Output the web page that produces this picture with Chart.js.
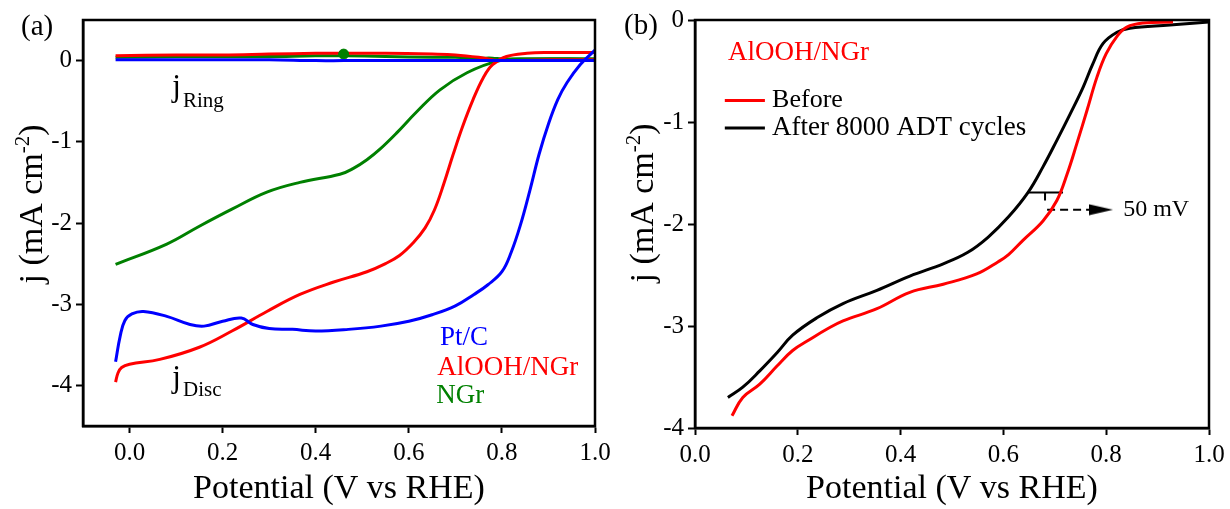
<!DOCTYPE html>
<html>
<head>
<meta charset="utf-8">
<script src="https://cdn.jsdelivr.net/npm/chart.js@4/dist/chart.umd.min.js"></script>
<style>
  html, body { margin: 0; padding: 0; background: #fff; }
  .panel { position: absolute; top: 0; }
</style>
</head>
<body>
<div class="panel" style="left:0"><canvas id="chartA" width="620" height="509"></canvas></div>
<div class="panel" style="left:610px"><canvas id="chartB" width="620" height="509"></canvas></div>
<script>
// ---- panel (a): RRDE disc + ring currents ----
const ptcDiscV  = [-0.03, -0.02, -0.01, 0.005, 0.03, 0.08, 0.13, 0.16, 0.2, 0.24, 0.265, 0.3, 0.35, 0.4, 0.47, 0.54, 0.6, 0.65, 0.7, 0.74, 0.77, 0.8, 0.82, 0.84, 0.86, 0.88, 0.9, 0.92, 0.94, 0.968, 1.0];
const ptcDiscJ  = [-3.71, -3.39, -3.2, -3.12, -3.09, -3.15, -3.25, -3.27, -3.21, -3.17, -3.25, -3.30, -3.31, -3.33, -3.31, -3.27, -3.21, -3.13, -3.02, -2.88, -2.76, -2.6, -2.36, -2.02, -1.6, -1.15, -0.78, -0.48, -0.27, -0.05, 0.13];
const alooDiscV = [-0.03, -0.025, -0.017, 0.0, 0.065, 0.15, 0.22, 0.295, 0.366, 0.437, 0.51, 0.55, 0.58, 0.61, 0.635, 0.655, 0.675, 0.695, 0.715, 0.738, 0.76, 0.78, 0.81, 0.854, 0.9, 1.0];
const alooDiscJ = [-3.96, -3.85, -3.78, -3.74, -3.68, -3.53, -3.33, -3.09, -2.88, -2.73, -2.6, -2.5, -2.4, -2.24, -2.06, -1.84, -1.52, -1.16, -0.82, -0.48, -0.21, -0.05, 0.05, 0.09, 0.1, 0.1];
const ngrDiscV  = [-0.03, 0.08, 0.15, 0.22, 0.295, 0.366, 0.452, 0.48, 0.51, 0.538, 0.574, 0.617, 0.667, 0.725, 0.789, 0.85, 1.0];
const ngrDiscJ  = [-2.51, -2.26, -2.04, -1.83, -1.62, -1.50, -1.40, -1.33, -1.22, -1.09, -0.89, -0.63, -0.36, -0.15, -0.01, 0.02, 0.02];
const ringV     = [-0.03, 0.1, 0.2, 0.3, 0.4, 0.46, 0.55, 0.65, 0.7, 0.75, 0.78, 0.8, 0.9, 1.0];
const ptcRingJ  = [0.01, 0.01, 0.01, 0.01, 0.0, 0.0, 0.0, 0.0, 0.0, 0.0, 0.0, 0.0, 0.0, 0.0];
const alooRingJ = [0.06, 0.07, 0.07, 0.08, 0.09, 0.09, 0.09, 0.08, 0.07, 0.04, 0.01, 0.0, 0.01, 0.01];
const ngrRingJ  = [0.04, 0.05, 0.05, 0.05, 0.06, 0.06, 0.05, 0.04, 0.04, 0.03, 0.03, 0.02, 0.02, 0.02];
const ngrDotV = [0.46];
const ngrDotJ = [0.08];
const ticksA_x = [0, 0.2, 0.4, 0.6, 0.8, 1.0];
const ticksA_y = [-4, -3, -2, -1, 0];

// ---- panel (b): AlOOH/NGr before / after ADT ----
const beforeV = [0.072, 0.093, 0.126, 0.16, 0.19, 0.224, 0.257, 0.288, 0.354, 0.418, 0.483, 0.548, 0.59, 0.61, 0.638, 0.677, 0.704, 0.724, 0.743, 0.763, 0.782, 0.80, 0.821, 0.84, 0.872, 0.93];
const beforeJ = [-3.88, -3.70, -3.57, -3.39, -3.24, -3.13, -3.03, -2.95, -2.83, -2.67, -2.59, -2.49, -2.37, -2.30, -2.16, -1.97, -1.77, -1.51, -1.21, -0.88, -0.56, -0.33, -0.16, -0.07, -0.03, -0.02];
const afterV  = [0.064, 0.093, 0.126, 0.16, 0.19, 0.237, 0.288, 0.354, 0.418, 0.483, 0.53, 0.57, 0.61, 0.648, 0.677, 0.704, 0.73, 0.755, 0.774, 0.794, 0.821, 0.846, 0.924, 1.0];
const afterJ  = [-3.70, -3.60, -3.44, -3.26, -3.09, -2.92, -2.78, -2.65, -2.51, -2.39, -2.28, -2.13, -1.93, -1.69, -1.44, -1.18, -0.92, -0.66, -0.43, -0.23, -0.12, -0.08, -0.05, -0.02];
const bracketV = [0.648, 0.716];
const bracketJ = [-1.69, -1.69];
const bracketTickV = [0.681, 0.681];
const bracketTickJ = [-1.69, -1.77];
const arrowV = [0.685, 0.775];
const arrowJ = [-1.86, -1.86];
const arrowHeadV = [0.79];
const arrowHeadJ = [-1.86];
const ticksB_x = [0, 0.2, 0.4, 0.6, 0.8, 1.0];
const ticksB_y = [-4, -3, -2, -1, 0];

const serif = '"Liberation Serif", "Times New Roman", serif';
const pts = (xs, ys) => xs.map((x, i) => ({ x, y: ys[i] }));

// arrowhead glyph used as a point style
const arrowHead = document.createElement('canvas');
arrowHead.width = 24; arrowHead.height = 12;
(() => {
  const c = arrowHead.getContext('2d');
  c.fillStyle = '#000';
  c.beginPath(); c.moveTo(0, 0.5); c.lineTo(24, 6); c.lineTo(0, 11.5); c.closePath(); c.fill();
})();

// frame, y title with superscript, free text and legend swatches
const notesPlugin = {
  id: 'notes',
  afterDraw(chart, args, opts) {
    const { ctx, chartArea: a, scales: { x, y } } = chart;
    ctx.save();
    ctx.strokeStyle = '#000';
    ctx.lineWidth = 2.5;
    ctx.strokeRect(a.left, a.top, a.right - a.left, a.bottom - a.top);

    // rotated y title: j (mA cm^-2)
    const big = `34px ${serif}`, small = `21px ${serif}`;
    ctx.font = big;
    const w1 = ctx.measureText('j (mA cm').width;
    const w3 = ctx.measureText(')').width;
    ctx.font = small;
    const w2 = ctx.measureText('-2').width;
    const total = w1 + w2 + w3;
    ctx.save();
    ctx.translate(opts.yTitle.x, opts.yTitle.y);
    ctx.rotate(-Math.PI / 2);
    ctx.fillStyle = '#000';
    ctx.textBaseline = 'alphabetic';
    ctx.textAlign = 'left';
    let sx = -total / 2;
    ctx.font = big; ctx.fillText('j (mA cm', sx, 0); sx += w1;
    ctx.font = small; ctx.fillText('-2', sx, -13); sx += w2;
    ctx.font = big; ctx.fillText(')', sx, 0);
    ctx.restore();

    (opts.items || []).forEach(n => {
      const px = n.px != null ? n.px : x.getPixelForValue(n.x);
      const py = n.py != null ? n.py : y.getPixelForValue(n.y);
      if (n.swatch) {
        ctx.strokeStyle = n.swatch;
        ctx.lineWidth = 3;
        ctx.beginPath();
        ctx.moveTo(x.getPixelForValue(n.sx0), py);
        ctx.lineTo(x.getPixelForValue(n.sx1), py);
        ctx.stroke();
      }
      ctx.fillStyle = n.color || '#000';
      ctx.font = `${n.size || 26}px ${serif}`;
      ctx.textBaseline = n.base || 'middle';
      ctx.textAlign = 'left';
      ctx.fillText(n.text, px, py);
      if (n.sub) {
        const w = ctx.measureText(n.text).width;
        ctx.font = `${n.subSize}px ${serif}`;
        ctx.fillText(n.sub, px + w + 2, py + n.subDy);
      }
    });
    ctx.restore();
  }
};

function axes(xMin, xMax, xTicks, yMin, yMax, yTicks, yW, xH) {
  const tickFont = { family: serif, size: 25 };
  const grid = { display: true, drawOnChartArea: false, drawTicks: true, tickLength: 7, tickWidth: 2, color: '#000' };
  const border = { display: true, color: '#000', width: 2.5 };
  return {
    x: {
      type: 'linear', min: xMin, max: xMax, grid, border,
      afterBuildTicks: s => { s.ticks = xTicks.map(v => ({ value: v })); },
      afterFit: s => { s.height = xH; },
      ticks: { font: tickFont, color: '#000', padding: 5, maxRotation: 0, callback: v => v.toFixed(1) },
      title: { display: true, text: 'Potential (V vs RHE)', font: { family: serif, size: 34 }, color: '#000', padding: { top: 0, bottom: 0 } }
    },
    y: {
      type: 'linear', min: yMin, max: yMax, grid, border,
      afterBuildTicks: s => { s.ticks = yTicks.map(v => ({ value: v })); },
      afterFit: s => { s.width = yW; },
      ticks: { font: tickFont, color: '#000', padding: 4, callback: v => String(v) },
      title: { display: false }
    }
  };
}

const line = (data, color, width) => ({
  data, borderColor: color, backgroundColor: color, borderWidth: width || 3,
  pointRadius: 0, fill: false, tension: 0.4
});

const blue = '#0000ff', red = '#ff0000', green = '#008000', black = '#000000';

new Chart(document.getElementById('chartA'), {
  type: 'line',
  data: {
    datasets: [
      line(pts(ringV, ptcRingJ), blue),
      line(pts(ptcDiscV, ptcDiscJ), blue),
      { data: pts(ngrDotV, ngrDotJ), showLine: false, pointRadius: 5, pointBackgroundColor: green, pointBorderColor: green },
      line(pts(alooDiscV, alooDiscJ), red),
      line(pts(ringV, alooRingJ), red),
      line(pts(ngrDiscV, ngrDiscJ), green),
      line(pts(ringV, ngrRingJ), green)
    ]
  },
  options: {
    responsive: false, animation: false,
    layout: { padding: { left: 0, right: 25, top: 20, bottom: 0 } },
    scales: axes(-0.1, 1.0, ticksA_x, -4.5, 0.5, ticksA_y, 83, 83),
    plugins: {
      legend: { display: false }, tooltip: { enabled: false },
      notes: {
        yTitle: { x: 42, y: 204 },
        items: [
          { text: '(a)', px: 21, py: 27, size: 29 },
          { text: 'Pt/C', x: 0.667, y: -3.41, color: blue, size: 27 },
          { text: 'AlOOH/NGr', x: 0.661, y: -3.78, color: red, size: 27 },
          { text: 'NGr', x: 0.659, y: -4.13, color: green, size: 27 },
          { text: 'j', sub: 'Ring', x: 0.092, y: -0.43, base: 'alphabetic', size: 31, subSize: 21, subDy: 11 },
          { text: 'j', sub: 'Disc', x: 0.092, y: -4.02, base: 'alphabetic', size: 31, subSize: 21, subDy: 9 }
        ]
      }
    }
  },
  plugins: [notesPlugin]
});

new Chart(document.getElementById('chartB'), {
  type: 'line',
  data: {
    datasets: [
      line(pts(beforeV, beforeJ), red),
      line(pts(afterV, afterJ), black),
      { data: pts(bracketV, bracketJ), borderColor: black, borderWidth: 2, pointRadius: 0 },
      { data: pts(bracketTickV, bracketTickJ), borderColor: black, borderWidth: 2, pointRadius: 0 },
      { data: pts(arrowV, arrowJ), borderColor: black, borderWidth: 2, borderDash: [8, 5], pointRadius: 0 },
      { data: pts(arrowHeadV, arrowHeadJ), showLine: false, pointStyle: arrowHead, pointRadius: 12 }
    ]
  },
  options: {
    responsive: false, animation: false,
    layout: { padding: { left: 0, right: 21, top: 20, bottom: 0 } },
    scales: axes(0, 1.0, ticksB_x, -4, 0, ticksB_y, 85, 81),
    plugins: {
      legend: { display: false }, tooltip: { enabled: false },
      notes: {
        yTitle: { x: 43, y: 203 },
        items: [
          { text: '(b)', px: 14, py: 26, size: 29 },
          { text: 'AlOOH/NGr', x: 0.064, y: -0.32, color: red, size: 27 },
          { text: 'Before', x: 0.15, y: -0.79, size: 26, swatch: red, sx0: 0.058, sx1: 0.136 },
          { text: 'After 8000 ADT cycles', x: 0.15, y: -1.06, size: 27, swatch: black, sx0: 0.058, sx1: 0.136 },
          { text: '50 mV', x: 0.833, y: -1.86, size: 24 }
        ]
      }
    }
  },
  plugins: [notesPlugin]
});
</script>
</body>
</html>
